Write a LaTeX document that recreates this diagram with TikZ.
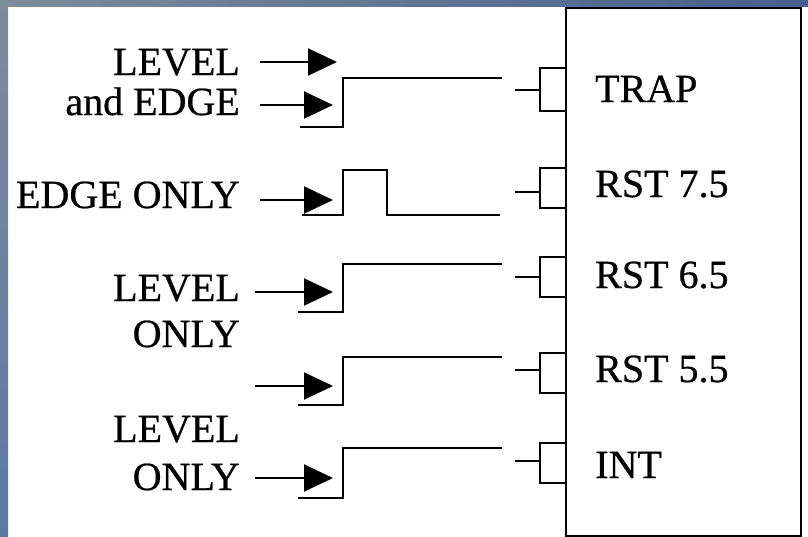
\documentclass[tikz,border=0pt]{standalone}
\usepackage{fontspec}
\setmainfont{Liberation Serif}
\newfontfamily\tms{Liberation Serif}[FakeBold=0.6]
\usetikzlibrary{arrows.meta}
\definecolor{bgA}{RGB}{125,140,155}
\definecolor{bgB}{RGB}{70,95,140}
\definecolor{bgC}{RGB}{95,120,160}
\begin{document}
\begin{tikzpicture}[x=1pt,y=-1pt,
  wire/.style={line width=2pt, line join=miter},
  sig/.style={line width=2pt, -{Triangle[length=29pt,width=27pt]}},
  lbl/.style={font=\tms\fontsize{40}{41}\selectfont, inner sep=0pt, anchor=base east},
  pinlbl/.style={font=\tms\fontsize{40}{41}\selectfont, inner sep=0pt, anchor=base west}]
\useasboundingbox (0,0) rectangle (808,536);
% background
\fill[white] (0,0) rectangle (808,536);
\shade[left color=bgA, right color=bgB] (0,0) rectangle (808,6);
\shade[top color=bgA, bottom color=bgC] (0,0) rectangle (8,536);

% chip
\node[draw, line width=2pt, minimum width=235pt, minimum height=528pt, anchor=north west, inner sep=0pt] (chip) at (565,7) {};

% pin labels
\node[pinlbl] (pTRAP) at (595,102) {TRAP};
\node[pinlbl] (p75) at (595,197) {RST 7.5};
\node[pinlbl] (p65) at (595,288) {RST 6.5};
\node[pinlbl] (p55) at (595,382) {RST 5.5};
\node[pinlbl] (pINT) at (595,478) {INT};

% pin brackets
\foreach \t/\b/\m/\n in {68/111/90/a, 168/208/192/b, 257/297/277/c, 353/393/370/d, 443/483/461/e}{
  \coordinate (s\n) at (515,\m);
  \coordinate (k\n) at (540,\m);
  \draw[wire] (565,\t) -- (540,\t) -- (540,\b) -- (565,\b);
  \draw[wire] (s\n) -- (k\n);
}

% input labels
\node[lbl] (l1) at (240,75) {LEVEL};
\node[lbl] (l2) at (240,115) {and EDGE};
\node[lbl] (l3) at (240,208) {EDGE ONLY};
\node[lbl] (l4) at (240,301) {LEVEL};
\node[lbl] (l5) at (240,347) {ONLY};
\node[lbl] (l6) at (240,442) {LEVEL};
\node[lbl] (l7) at (240,490) {ONLY};

% arrows
\coordinate (a1s) at (260,62);  \coordinate (a1e) at (337,62);
\coordinate (a2s) at (260,105); \coordinate (a2e) at (333,105);
\coordinate (a3s) at (260,200); \coordinate (a3e) at (333,200);
\coordinate (a4s) at (255,292); \coordinate (a4e) at (333,292);
\coordinate (a5s) at (255,386); \coordinate (a5e) at (333,386);
\coordinate (a6s) at (255,478); \coordinate (a6e) at (333,478);
\foreach \i in {1,...,6}{ \draw[sig] (a\i s) -- (a\i e); }

% waveforms
\draw[wire] (300,127) -- (343,127) -- (343,78) -- (502,78);
\draw[wire] (302,215) -- (343,215) -- (343,170) -- (387,170) -- (387,215) -- (500,215);
\draw[wire] (298,312) -- (343,312) -- (343,264) -- (502,264);
\draw[wire] (298,405) -- (343,405) -- (343,357) -- (502,357);
\draw[wire] (298,498) -- (343,498) -- (343,448) -- (502,448);
\end{tikzpicture}
\end{document}
